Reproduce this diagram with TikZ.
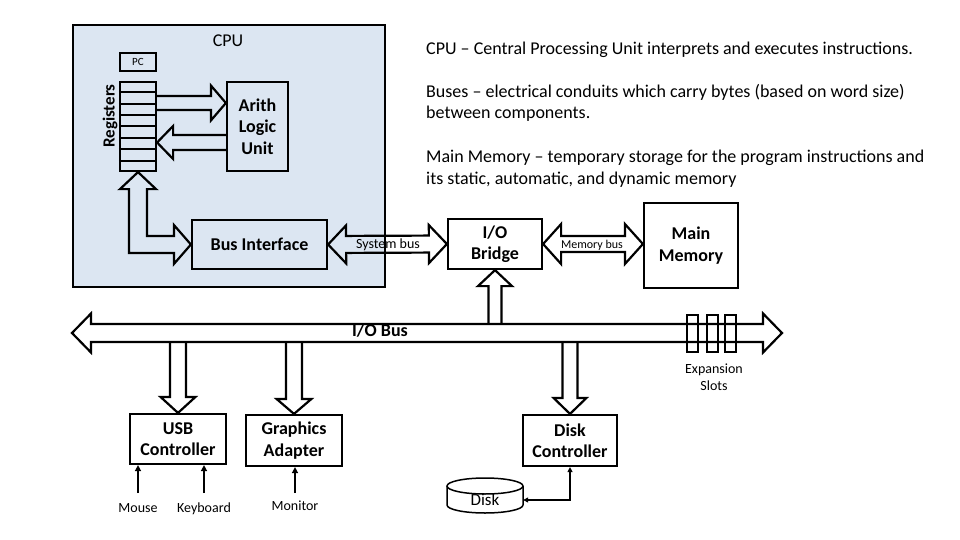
\documentclass[tikz,border=0pt]{standalone}
\usepackage{fontspec}
\setmainfont{Carlito}
\usetikzlibrary{calc,arrows.meta}
\definecolor{cpublue}{RGB}{220,230,242}
% straight block arrow: #1 shaft half width, #2 head half width, #3 head length, #4 start, #5 tip
\newcommand\barrow[5]{%
  \draw[blk] ($(#4)!#1!90:(#5)$) -- ($(#5)!#3!(#4)!#1!-90:(#4)$) -- ($(#5)!#3!(#4)!#2!-90:(#4)$)
    -- (#5) -- ($(#5)!#3!(#4)!#2!90:(#4)$) -- ($(#5)!#3!(#4)!#1!90:(#4)$) -- ($(#4)!#1!-90:(#5)$);}
% double-headed block arrow
\newcommand\dbarrow[5]{%
  \draw[blk] (#4) -- ($(#4)!#3!(#5)!#2!90:(#5)$) -- ($(#4)!#3!(#5)!#1!90:(#5)$)
    -- ($(#5)!#3!(#4)!#1!-90:(#4)$) -- ($(#5)!#3!(#4)!#2!-90:(#4)$) -- (#5)
    -- ($(#5)!#3!(#4)!#2!90:(#4)$) -- ($(#5)!#3!(#4)!#1!90:(#4)$)
    -- ($(#4)!#3!(#5)!#1!-90:(#5)$) -- ($(#4)!#3!(#5)!#2!-90:(#5)$) -- cycle;}
\begin{document}
\begin{tikzpicture}[x=1pt,y=-1pt,
  box/.style={draw, line width=2.2pt, inner sep=0pt, align=center, font=\bfseries\fontsize{18}{21.5}\selectfont},
  blk/.style={draw, line width=2.2pt, line join=miter},
  lbl/.style={inner sep=0pt, font=\fontsize{14}{17}\selectfont, align=center},
  body/.style={anchor=base west, inner sep=0pt, font=\fontsize{18}{22}\selectfont},
  thinarr/.style={line width=1.6pt, -{Triangle[length=6pt,width=6pt]}}
]
\useasboundingbox (0,0) rectangle (960,540);

% CPU
\node[draw, line width=2.2pt, fill=cpublue, minimum width=312pt, minimum height=262pt, inner sep=0pt] (cpu) at (229,156) {};
\node[inner sep=0pt, font=\fontsize{18}{20}\selectfont] (cpulbl) at (228,41) {CPU};
\node[draw, line width=2pt, minimum width=36pt, minimum height=18pt, inner sep=0pt, font=\fontsize{11}{12}\selectfont] (pc) at (138,62) {PC};
\node[draw, line width=2.2pt, minimum width=36pt, minimum height=89pt, inner sep=0pt] (regs) at (138,126.5) {};
\foreach \i in {1,...,7}
  \draw[line width=2pt] ($(regs.north west)!\i/8!(regs.south west)$) -- ($(regs.north east)!\i/8!(regs.south east)$);
\node[rotate=90, inner sep=0pt, font=\bfseries\fontsize{17}{18}\selectfont] (reglbl) at (110,116) {Registers};
\node[box, minimum width=61pt, minimum height=89pt] (alu) at (257.5,126.5) {Arith\\Logic\\Unit};
\node[box, minimum width=135pt, minimum height=49pt] (busif) at (259.5,244.5) {Bus Interface};

% other boxes
\node[box, minimum width=94pt, minimum height=50pt] (bridge) at (495,244) {I/O\\Bridge};
\node[box, minimum width=94pt, minimum height=85pt] (mem) at (691,245.5) {Main\\Memory};
\node[box, minimum width=96pt, minimum height=50pt] (usb) at (178,439) {USB\\Controller};
\node[box, minimum width=96pt, minimum height=51pt] (gfx) at (294,440.5) {Graphics\\Adapter};
\node[box, minimum width=94pt, minimum height=51pt] (dctrl) at (570,440.5) {Disk\\Controller};

% register <-> ALU arrows
\coordinate (r1s) at ($(regs.east)+(0,-23.5)$);
\coordinate (r1t) at ($(alu.west)+(0,-23.5)$);
\coordinate (r2s) at ($(alu.west)+(0,16)$);
\coordinate (r2t) at ($(regs.east)+(0,16)$);
\barrow{7pt}{17.5pt}{15pt}{r1s}{r1t}
\barrow{7.5pt}{16.5pt}{16pt}{r2s}{r2t}

% registers <-> bus interface (bent double arrow)
\coordinate (bc) at (regs.south |- busif.west);
\draw[blk] (regs.south) -- ($(regs.south)+(-18,17)$) -- ($(regs.south)+(-9,17)$) -- ($(bc)+(-9,8.5)$)
  -- ($(busif.west)+(-17,8.5)$) -- ($(busif.west)+(-17,19.5)$) -- (busif.west)
  -- ($(busif.west)+(-17,-19.5)$) -- ($(busif.west)+(-17,-8.5)$) -- ($(bc)+(9,-8.5)$)
  -- ($(regs.south)+(9,17)$) -- ($(regs.south)+(18,17)$) -- cycle;

% system bus and memory bus
\coordinate (mt) at (mem.west |- bridge.east);
\dbarrow{8.5pt}{19pt}{18pt}{busif.east}{bridge.west}
\dbarrow{8pt}{20pt}{18pt}{bridge.east}{mt}
\node[inner sep=0pt, font=\fontsize{14}{16}\selectfont] (sysbus) at (388,245) {System bus};
\node[inner sep=0pt, font=\fontsize{12}{14}\selectfont] (membus) at (592,245) {Memory bus};

% I/O bus
\coordinate (iobL) at (72,333);
\coordinate (iobR) at (782,333);
\dbarrow{9pt}{19.5pt}{19pt}{iobL}{iobR}
\node[inner sep=0pt, font=\bfseries\fontsize{18}{20}\selectfont] (ioblbl) at (380,331) {I/O Bus};
\foreach \x/\n in {692.5/1, 712/2, 730.5/3}
  \node[draw, line width=2pt, minimum width=11pt, minimum height=37pt, inner sep=0pt] (slot\n) at (\x,333.5) {};
\node[lbl] (exp) at (714,377.5) {Expansion\\Slots};

% bus taps
\coordinate (bT) at ($(bridge.south |- iobL)+(0,-9)$);
\coordinate (uT) at ($(usb.north |- iobL)+(0,9)$);
\coordinate (gT) at ($(gfx.north |- iobL)+(0,9)$);
\coordinate (dT) at ($(dctrl.north |- iobL)+(0,9)$);
\barrow{6.5pt}{17pt}{16pt}{bT}{bridge.south}
\barrow{8pt}{17.5pt}{16pt}{uT}{usb.north}
\barrow{8pt}{17.5pt}{15pt}{gT}{gfx.north}
\barrow{7.5pt}{16.5pt}{16pt}{dT}{dctrl.north}

% peripherals
\node[lbl, anchor=base] (mouse) at (138,512) {Mouse};
\node[lbl, anchor=base] (kbd) at (204,512) {Keyboard};
\node[lbl, anchor=base] (mon) at (295,510) {Monitor};
\coordinate (mouseS) at (mouse.north |- 0,493);
\coordinate (kbdS) at (kbd.north |- 0,493);
\coordinate (monS) at (mon.north |- 0,493);
\draw[thinarr] (mouseS) -- (mouseS |- usb.south);
\draw[thinarr] (kbdS) -- (kbdS |- usb.south);
\draw[thinarr] (monS) -- (monS |- gfx.south);

% disk
\draw[line width=1.5pt] (485,486) ellipse [x radius=38pt, y radius=8pt];
\draw[line width=1.5pt] (447,486) -- (447,505) arc[start angle=180, end angle=360, x radius=38pt, y radius=8pt] -- (523,486);
\node[inner sep=0pt, minimum width=76pt, font=\fontsize{17}{18}\selectfont] (disk) at (485,500) {Disk};
\draw[line width=1.6pt, {Triangle[length=5pt,width=5pt]}-{Triangle[length=5pt,width=5pt]}] (disk.east) -| (dctrl.south);

% descriptive text
\node[body] (t1) at (426,55) {CPU – Central Processing Unit interprets and executes instructions.};
\node[body] (t2) at (426,98) {Buses – electrical conduits which carry bytes (based on word size)};
\node[body] (t3) at (426,118.5) {between components.};
\node[body] (t4) at (426,163) {Main Memory – temporary storage for the program instructions and};
\node[body] (t5) at (426,185) {its static, automatic, and dynamic memory};
\end{tikzpicture}
\end{document}
